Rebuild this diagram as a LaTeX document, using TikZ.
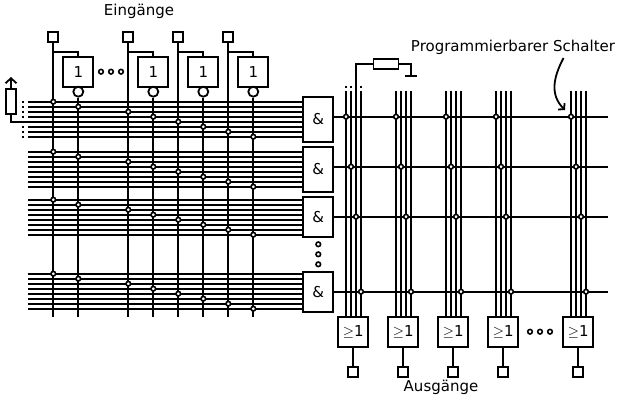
\documentclass[tikz,border=0pt]{standalone}
\usepackage{fontspec}
\setmainfont{DejaVu Sans}
\usetikzlibrary{arrows.meta}
\tikzset{
  wire/.style={line width=1.8pt,line cap=butt},
  hwire/.style={line width=1.6pt},
  box/.style={draw,line width=1.8pt,fill=white,inner sep=0pt,minimum width=30pt,minimum height=30pt,font=\fontsize{15}{16}\selectfont},
  pin/.style={draw,line width=1.8pt,fill=white,inner sep=0pt,minimum width=10pt,minimum height=10pt},
  sw/.style={circle,draw,line width=1.6pt,fill=white,inner sep=0pt,minimum size=4.6pt},
  inv/.style={circle,draw,line width=1.8pt,fill=white,inner sep=0pt,minimum size=10pt},
  elide/.style={circle,draw,line width=1.6pt,fill=white,inner sep=0pt,minimum size=4.6pt},
  lbl/.style={font=\fontsize{15}{17}\selectfont,inner sep=0pt}
}
\begin{document}
\begin{tikzpicture}[x=1pt,y=-1pt]
\useasboundingbox (0,0) rectangle (620,400);
% horizontal product lines
\foreach \g/\yy in {1/101.7,2/151.7,3/199.7,4/273.7}{
  \foreach \i in {0,...,7}{
    \coordinate (hl\g\i) at (28,\yy+5*\i);
    \coordinate (hr\g\i) at (304,\yy+5*\i);
    \draw[hwire] (hl\g\i) -- (hr\g\i);
  }
}
% inputs and inverters
\foreach \n/\x/\ix in {a/53.3/78.3,b/128.3/153.3,c/178.3/203.3,d/228.3/253.3}{
  \node[pin] (in\n) at (\x,36.7) {};
  \node[box] (not\n) at (\ix,71.7) {1};
  \node[inv] (inv\n) at (\ix,91.7) {};
  \coordinate (br\n) at (\x,51.7);
  \coordinate (bt\n) at (\ix,51.7);
  \coordinate (ve\n) at (\x,317);
  \coordinate (we\n) at (\ix,317);
  \draw[wire] (in\n) -- (ve\n);
  \draw[wire] (inv\n) -- (we\n);
  \draw[wire] (br\n) -- (bt\n) -- (not\n.north);
}
% switches on the AND array
\foreach \x [count=\i from 0] in {53.3,78.3,128.3,153.3,178.3,203.3,228.3,253.3}{
  \foreach \g/\yy in {1/101.7,2/151.7,3/199.7,4/273.7}{
    \node[sw] (s\g\i) at (\x,\yy+5*\i) {};
  }
}
\foreach \x in {101,111,121}{ \node[elide] at (\x,71.7) {}; }
% pull-up at left
\node[draw,line width=1.8pt,fill=white,minimum width=10pt,minimum height=25pt,inner sep=0pt] (rl) at (11,101.7) {};
\coordinate (rlt) at (11,77);
\coordinate (rlb) at (11,121.7);
\draw[wire,-{Straight Barb[length=5pt,width=11pt,line width=1.8pt]}] (rl) -- (rlt);
\draw[wire] (rl) -- (rlb) -- (hl14);
\foreach \yy in {101.7,106.7,111.7,116.7,126.7,131.7,136.7}{
  \coordinate (dl) at (22.3,\yy);
  \coordinate (dr) at (24.3,\yy);
  \draw[line width=1.6pt] (dl) -- (dr);
}
% AND gates
\node[box,minimum height=45pt] (and1) at (318.3,119.2) {\&};
\node[box,minimum height=45pt] (and2) at (318.3,169.2) {\&};
\node[box,minimum height=40pt] (and3) at (318.3,216.7) {\&};
\node[box,minimum height=40pt] (and4) at (318.3,291.7) {\&};
\foreach \yy in {244.3,254.3,264.3}{ \node[elide] at (318.3,\yy) {}; }
% output product lines
\coordinate (or1) at (608,116.7);
\coordinate (or2) at (608,166.7);
\coordinate (or3) at (608,216.7);
\coordinate (or4) at (608,291.7);
% OR columns
\foreach \n/\x in {1/346,2/396,3/446,4/496,5/571}{
  \foreach \k in {0,1,2,3}{
    \coordinate (ot\n\k) at (\x+5*\k,91);
    \coordinate (ob\n\k) at (\x+5*\k,317);
    \draw[wire] (ot\n\k) -- (ob\n\k);
  }
}
\foreach \k in {1,2,3,4}{ \draw[wire] (and\k.east |- or\k) -- (or\k); }
\foreach \n/\x in {1/346,2/396,3/446,4/496,5/571}{
  \node[sw] (t\n1) at (\x,116.7) {};
  \node[sw] (t\n2) at (\x+5,166.7) {};
  \node[sw] (t\n3) at (\x+10,216.7) {};
  \node[sw] (t\n4) at (\x+15,291.7) {};
  \node[box] (orb\n) at (\x+7.3,331.7) {$\geq$1};
  \node[pin] (out\n) at (\x+7.3,371.7) {};
  \draw[wire] (orb\n) -- (out\n);
}
\foreach \x in {530,540,550}{ \node[elide] at (\x,331.7) {}; }
% pull-down at top
\node[draw,line width=1.8pt,fill=white,minimum width=25pt,minimum height=10pt,inner sep=0pt] (rt) at (386,64.3) {};
\coordinate (rtl) at (356,64.3);
\coordinate (rtr) at (410.7,64.3);
\coordinate (gnd) at (410.7,76);
\coordinate (gl) at (405,76);
\coordinate (gr) at (417,76);
\draw[wire] (ot12) -- (rtl) -- (rt) -- (rtr) -- (gnd);
\draw[wire] (gl) -- (gr);
\foreach \x in {346,351,361}{
  \coordinate (dt) at (\x,85.7);
  \coordinate (db) at (\x,87.7);
  \draw[line width=1.6pt] (dt) -- (db);
}
% labels
\node[lbl] (ein) at (139,11) {Eingänge};
\node[lbl] (aus) at (441,387) {Ausgänge};
\node[lbl] (prog) at (513,47) {Programmierbarer Schalter};
\coordinate (ps) at (563.5,58);
\coordinate (pe) at (565,110);
\draw[wire,-{Straight Barb[length=4pt,width=9pt,line width=1.8pt]}] (ps) .. controls (553,78) and (550,95) .. (pe);
\end{tikzpicture}
\end{document}
